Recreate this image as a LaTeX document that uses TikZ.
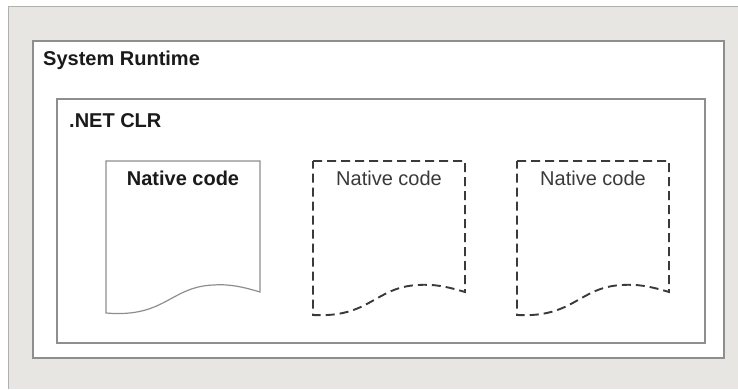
\documentclass[tikz,border=0pt]{standalone}
\usepackage{fontspec}
\setmainfont{Liberation Sans}
\usepackage{tikz}

\definecolor{panel}{HTML}{E8E6E3}
\definecolor{frame}{HTML}{8E8E8E}
\definecolor{ink}{HTML}{1A1A1A}
\definecolor{dashink}{HTML}{3A3A3A}

\begin{document}
\begin{tikzpicture}[
   x=1pt,y=-1pt,
   font=\fontsize{20}{24}\selectfont,
   layer/.style={draw=frame,line width=1.3pt,fill=white,anchor=north west,outer sep=0pt,inner sep=0pt},
   title/.style={font=\fontsize{20}{24}\selectfont\bfseries,text=ink,inner sep=0pt},
   doc/.style={draw=frame,line width=1.2pt,fill=white},
   ghost/.style={draw=dashink,line width=1.9pt,dash pattern=on 9pt off 5pt,fill=white},
   caption/.style={inner sep=0pt,anchor=base,text=dashink}]
\useasboundingbox (0,0) rectangle (738,389);
\fill[panel] (8,6) rectangle (738,389);
\draw[frame!70,line width=1pt] (8,389) -- (8,6) -- (738,6);
% runtime and clr
\node[layer,minimum width=691pt,minimum height=317pt] (SR) at (33,41) {};
\node[title,anchor=base west] (SRname) at (43,65) {System Runtime};
\node[layer,minimum width=648pt,minimum height=244pt] (CLR) at (57,99) {};
\node[title,anchor=base west] (CLRname) at (69,127) {.NET CLR};
% native code pages
\draw[doc] (106,161) -- (260,161) -- (260,292)
   .. controls (240,286) and (228,284) .. (213,285)
   .. controls (170,287) and (165,318) .. (106,313) -- cycle;
\node[title,anchor=base] (NC1) at (183,185) {Native code};
\draw[ghost] (313,161) -- (465,161) -- (465,292)
   .. controls (445,286) and (433,284) .. (418,285)
   .. controls (375,287) and (370,318) .. (313,315) -- cycle;
\node[caption] (NC2) at (389,185) {Native code};
\draw[ghost] (517,161) -- (669,161) -- (669,292)
   .. controls (649,286) and (637,284) .. (622,285)
   .. controls (579,287) and (574,318) .. (517,315) -- cycle;
\node[caption] (NC3) at (593,185) {Native code};
\end{tikzpicture}
\end{document}
